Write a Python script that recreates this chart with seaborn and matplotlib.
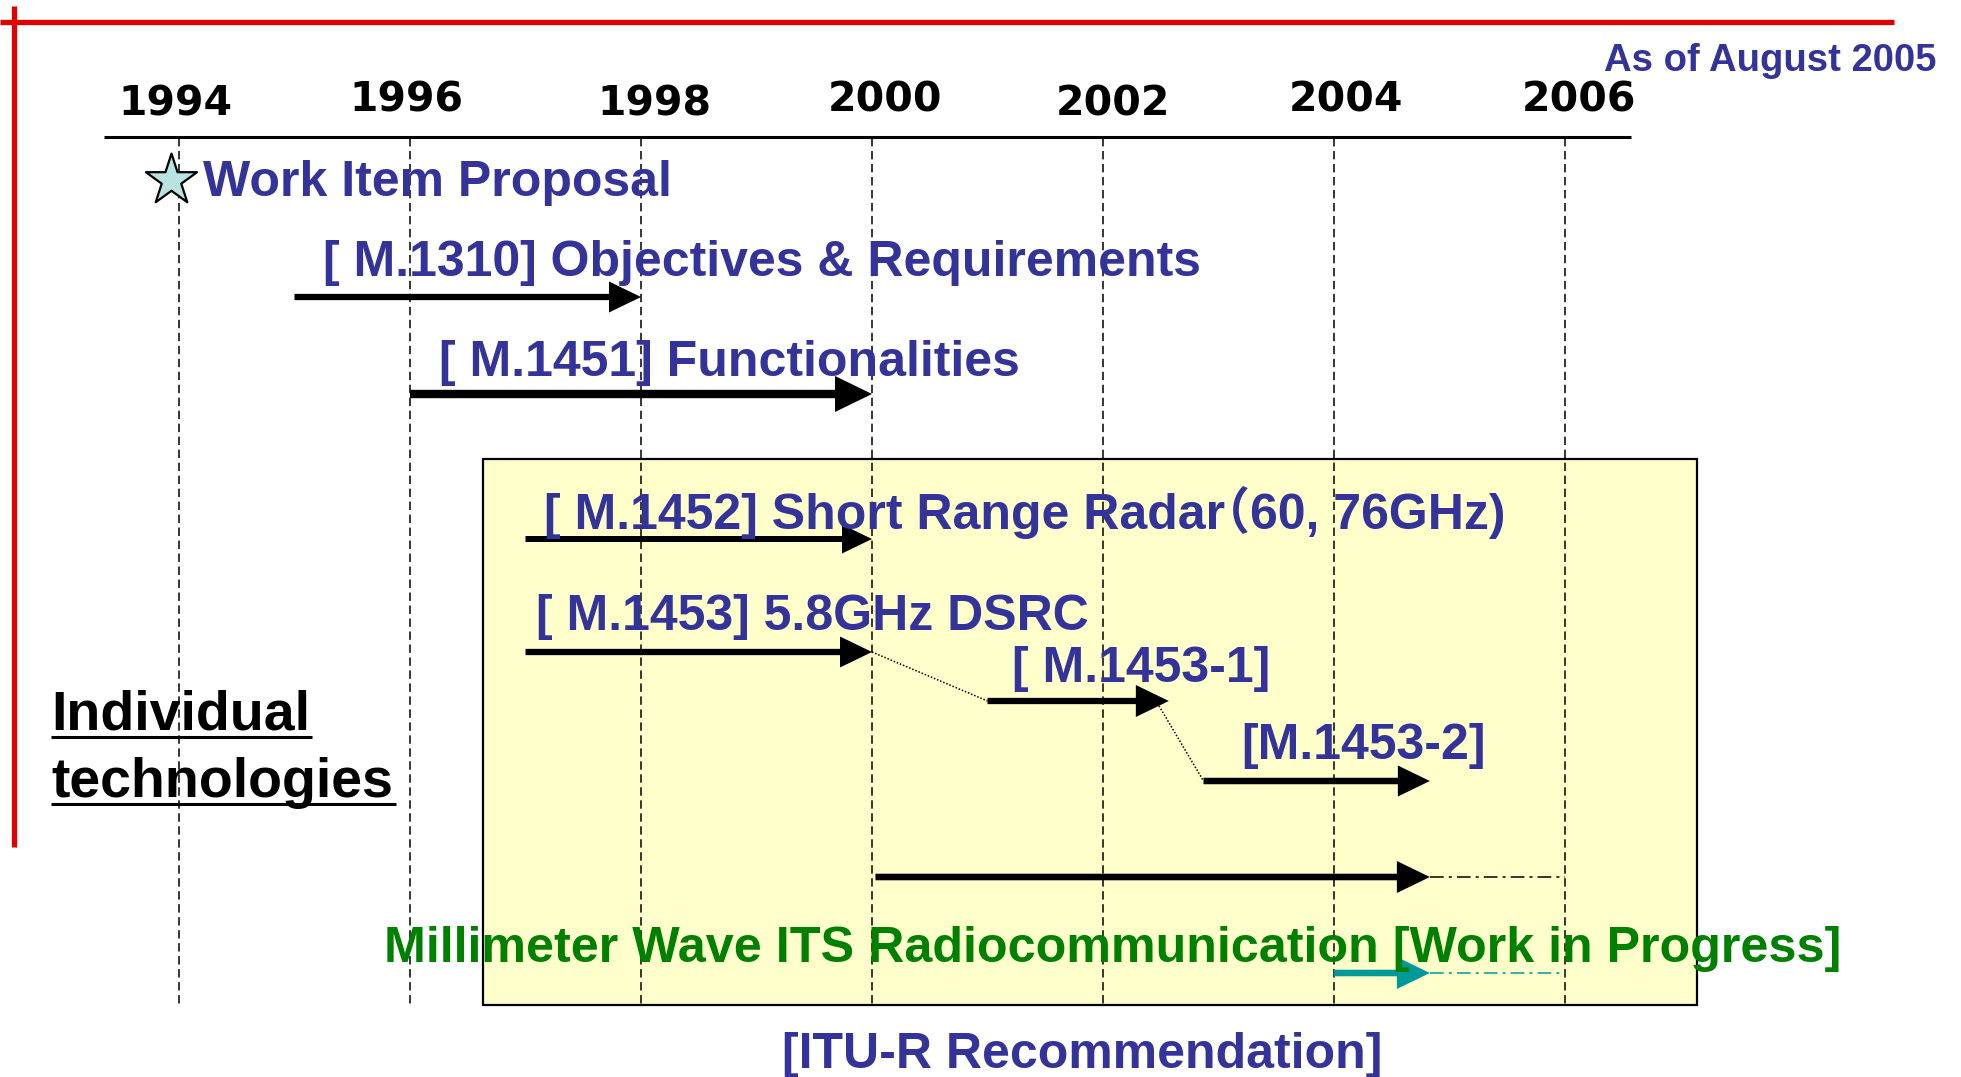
import matplotlib
matplotlib.use("Agg")
import matplotlib.pyplot as plt
import seaborn as sns
import pandas as pd

# ---------------- data ----------------
tick_years = [1994, 1996, 1998, 2000, 2002, 2004, 2006]
tick_labels = ["1994", "1996", "1998", "2000", "2002", "2004", "2006"]

proposal_year = 1993.93
proposal_label = "Work Item Proposal"

rec_labels = [
    "[ M.1310] Objectives & Requirements",
    "[ M.1451] Functionalities",
    "[ M.1452] Short Range Radar\uff0860, 76GHz)",
    "[ M.1453] 5.8GHz DSRC",
    "[ M.1453-1]",
    "[M.1453-2]",
]
rec_start = [1995.0, 1996.0, 1997.0, 1997.0, 2001.0, 2002.87]
rec_end = [1998.0, 2000.0, 2000.0, 2000.0, 2002.57, 2004.83]

mmw_label = "Millimeter Wave ITS Radiocommunication [Work in Progress]"
mmw_start = [2000.03, 2004.0]
mmw_end = [2004.83, 2004.83]
mmw_target = [2006.0, 2006.0]

status_label = "As of August 2005"
group_label = ["Individual", "technologies"]
footer_label = "[ITU-R Recommendation]"

# ---------------- layout (pixels) ----------------
W, H = 1961, 1077
PX_1994, PPY = 179.0, 115.5          # pixel of 1994 gridline, pixels per year


def px(xp):
    return 1994 + (xp - PX_1994) / PPY


BLUE = "#333399"
GREEN = "#008000"
TEAL = "#009999"
RED = "#e00000"
YELLOW = "#ffffcc"

rec_arrow_y = [297, 394, 539, 652, 701, 781]
rec_shaft = [6.3, 8.4, 6.0, 6.3, 6.3, 6.5]
rec_head = [31, 36, 29, 31, 32, 31]
rec_text_x = [323, 439, 544, 536, 1012, 1241]
rec_text_base = [276, 376, 529, 630, 682, 759]
mmw_arrow_y = [877, 973]
mmw_colors = ["black", TEAL]
tick_base = [115, 112, 115, 112, 115, 112, 112]
tick_nudge = [-4, -4, 13, 13, 10, 12, 14]

sns.set_theme(style="white")
plt.rcParams["font.family"] = ["Liberation Sans", "Noto Sans CJK JP", "DejaVu Sans"]

fig = plt.figure(figsize=(W / 100, H / 100), dpi=100)
ax = fig.add_axes([0, 0, 1, 1])
ax.set_xlim(px(0), px(W))
ax.set_ylim(H, 0)
ax.axis("off")

# frame decorations
ax.plot([px(0), px(1894)], [22, 22], color=RED, lw=3.8, solid_capstyle="butt", zorder=2)
ax.plot([px(13.5), px(13.5)], [6, 847], color=RED, lw=3.8, solid_capstyle="butt", zorder=2)
ax.plot([px(104), px(1631)], [137, 137], color="black", lw=2.2, solid_capstyle="butt", zorder=3)

# yellow box of individual technologies
ax.add_patch(plt.Rectangle((px(483), 459), px(1697) - px(483), 1005 - 459,
                           facecolor=YELLOW, edgecolor="black", lw=1.6, zorder=1))

# dashed year gridlines
grid = pd.DataFrame({"year": tick_years})
ax.vlines(grid["year"], 138, 1004, colors="black", lw=1.1,
          linestyles=[(0, (5.5, 3.0))], zorder=2)

# year labels
for yr, lab, b, n in zip(tick_years, tick_labels, tick_base, tick_nudge):
    ax.text(yr + n / PPY, b, lab, ha="center", va="baseline", fontsize=29.5,
            fontweight="bold", family="DejaVu Sans", color="black", zorder=5)

ax.text(px(1936), 71, status_label, ha="right", va="baseline", fontsize=27.5,
        fontweight="bold", color=BLUE, zorder=5)

# work item proposal star
star = pd.DataFrame({"year": [proposal_year], "y": [180]})
sns.scatterplot(data=star, x="year", y="y", marker="*", s=1500, color="#b9e2e2",
                edgecolor="black", linewidth=1.6, ax=ax, zorder=6, legend=False)
ax.text(px(203), 196, proposal_label, ha="left", va="baseline", fontsize=36,
        fontweight="bold", color=BLUE, zorder=5)


def arrow(x0, x1, y, color, shaft=6.3, head=31):
    ax.arrow(x0, y, x1 - x0, 0, width=shaft, head_width=head, head_length=(head + 1) / PPY,
             length_includes_head=True, fc=color, ec="none", zorder=4)


renderer = fig.canvas.get_renderer()


def label(x, base, text, color):
    """Draw a label; a full-width parenthesis is kept tight like proportional CJK."""
    if "\uff08" in text:
        head, tail = text.split("\uff08", 1)
        t1 = ax.text(x, base, head, ha="left", va="baseline", fontsize=36,
                     fontweight="bold", color=color, zorder=5)
        bb = t1.get_window_extent(renderer)
        x_end = ax.transData.inverted().transform((bb.x1, 0))[0]
        ax.text(x_end - 25 / PPY, base, "\uff08" + tail, ha="left", va="baseline",
                fontsize=36, fontweight="bold", color=color, zorder=5)
    else:
        ax.text(x, base, text, ha="left", va="baseline", fontsize=36,
                fontweight="bold", color=color, zorder=5)


# recommendations
for lab, s, e, ay, sh, hd, tx, tb in zip(rec_labels, rec_start, rec_end, rec_arrow_y,
                                          rec_shaft, rec_head, rec_text_x, rec_text_base):
    arrow(s, e, ay, "black", sh, hd)
    label(px(tx), tb, lab, BLUE)

# dotted connectors for revisions of M.1453
ax.plot([rec_end[3], rec_start[4]], [rec_arrow_y[3], rec_arrow_y[4]], color="black",
        lw=1.1, ls=(0, (1, 1.2)), zorder=3)
ax.plot([rec_end[4] - 0.1, rec_start[5]], [rec_arrow_y[4] + 2, rec_arrow_y[5]],
        color="black", lw=1.1, ls=(0, (1, 1.2)), zorder=3)

# millimeter wave work in progress
for s, e, t, ay, c in zip(mmw_start, mmw_end, mmw_target, mmw_arrow_y, mmw_colors):
    arrow(s, e, ay, c, 6.6, 32)
    ax.plot([e, t], [ay, ay], color=c, lw=1.1, ls=(0, (9, 3.3, 2, 3.3)), zorder=3)
ax.text(px(384), 962, mmw_label, ha="left", va="baseline", fontsize=36.2,
        fontweight="bold", color=GREEN, zorder=5)

# group label (underlined)
for lab, b, r in zip(group_label, [730, 797], [312, 396]):
    ax.text(px(51), b, lab, ha="left", va="baseline", fontsize=40,
            fontweight="bold", color="black", zorder=5)
    ax.plot([px(51), px(r)], [b + 7, b + 7], color="black", lw=2.2,
            solid_capstyle="butt", zorder=5)

ax.text(px(1082), 1068, footer_label, ha="center", va="baseline", fontsize=36,
        fontweight="bold", color=BLUE, zorder=5)

fig.savefig("out.png", dpi=100)
